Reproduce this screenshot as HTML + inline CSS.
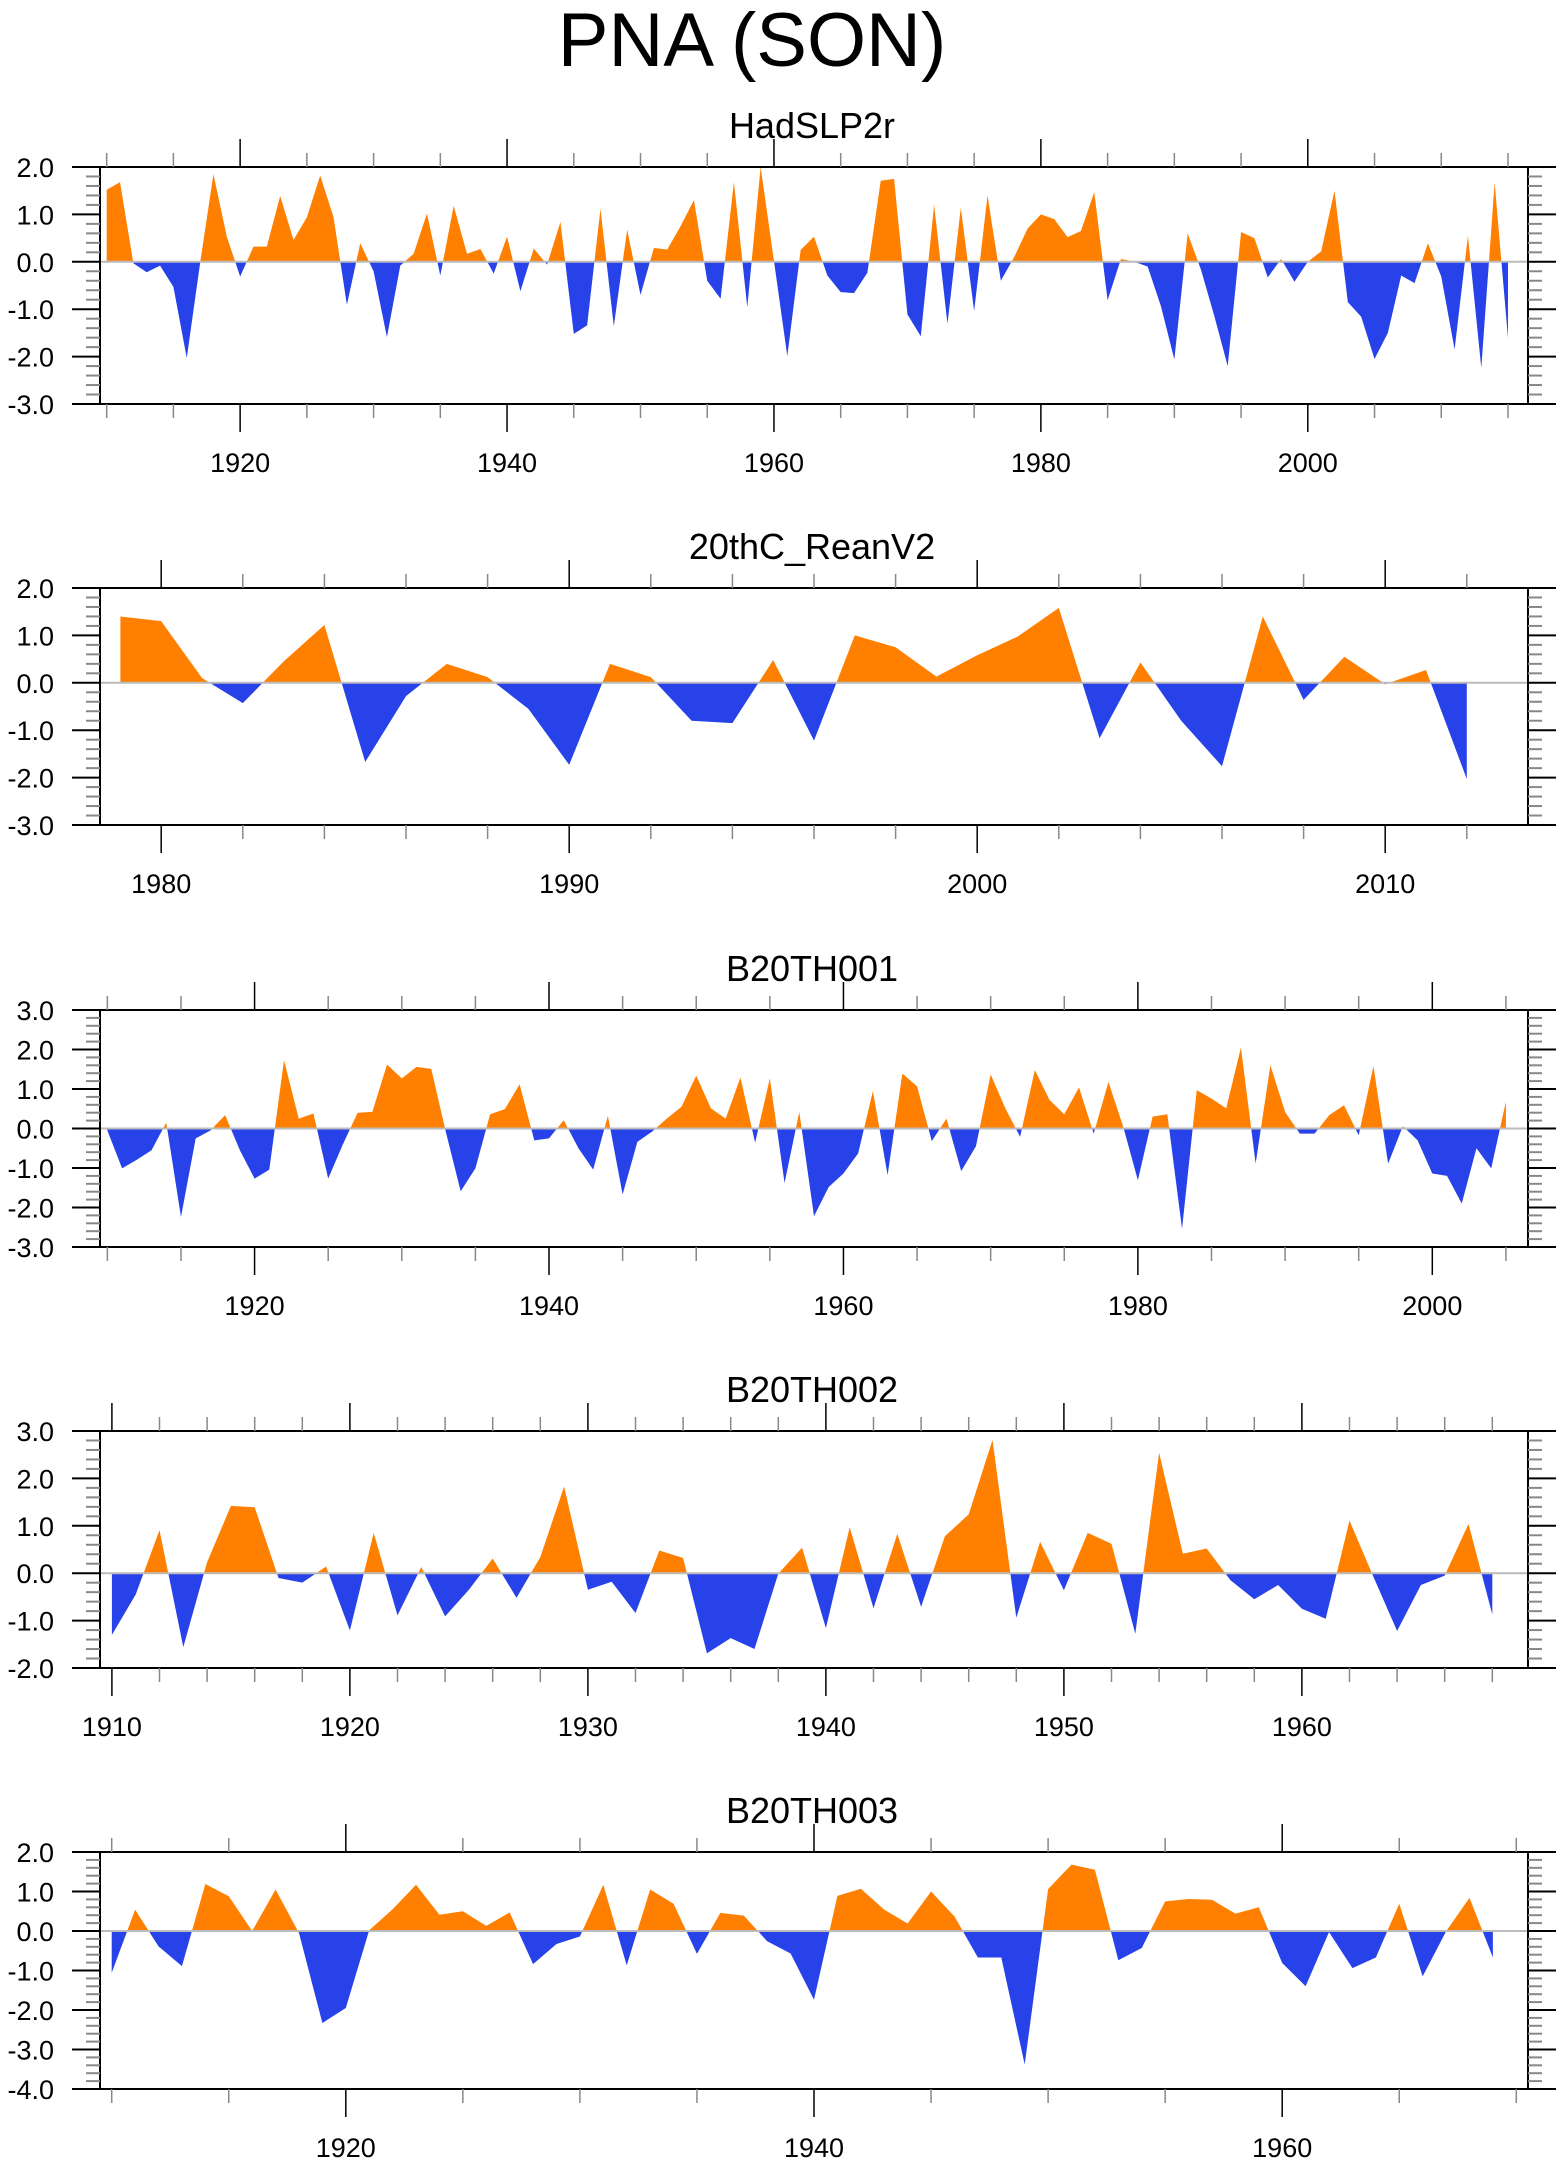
<!DOCTYPE html>
<html><head><meta charset="utf-8"><style>
html,body{margin:0;padding:0;background:#fff;}
svg{display:block;font-family:"Liberation Sans",Arial,sans-serif;}
</style></head><body>
<svg id="fig" width="1560" height="2165" viewBox="0 0 1560 2165" xmlns="http://www.w3.org/2000/svg">
<text x="752" y="66" font-size="76" text-anchor="middle">PNA (SON)</text>
</svg>
<script>
const hadYears0 = 1910;
const hadVals = [1.52,1.68,-0.03,-0.22,-0.08,-0.53,-2.03,-0.03,1.85,0.53,
-0.31,0.32,0.32,1.39,0.46,0.94,1.82,0.94,-0.91,0.39,
-0.2,-1.59,-0.08,0.17,1.02,-0.29,1.18,0.17,0.27,-0.25,
0.53,-0.62,0.28,-0.06,0.84,-1.52,-1.34,1.12,-1.36,0.68,
-0.7,0.29,0.26,0.75,1.3,-0.4,-0.78,1.68,-0.96,2.0,
0.02,-1.99,0.25,0.53,-0.29,-0.64,-0.66,-0.23,1.71,1.75,
-1.11,-1.57,1.2,-1.31,1.14,-1.04,1.4,-0.4,0.1,0.7,
1.0,0.9,0.52,0.65,1.47,-0.81,0.06,0.0,-0.1,-0.94,
-2.06,0.6,-0.17,-1.15,-2.2,0.63,0.5,-0.33,0.06,-0.42,
0.0,0.22,1.5,-0.85,-1.16,-2.05,-1.5,-0.29,-0.45,0.39,
-0.31,-1.85,0.55,-2.24,1.67,-1.61];
const reanYears0 = 1979;
const reanVals = [1.4,1.3,0.1,-0.43,0.45,1.22,-1.67,-0.28,0.4,0.12,
-0.55,-1.73,0.4,0.12,-0.8,-0.85,0.48,-1.22,1.0,0.75,
0.13,0.58,0.98,1.58,-1.17,0.43,-0.8,-1.76,1.4,-0.36,
0.55,-0.03,0.27,-2.03];
const b1Years0 = 1910;
const b1Vals = [-0.05,-1.01,-0.79,-0.55,0.15,-2.24,-0.25,-0.05,0.34,-0.55,
-1.27,-1.04,1.73,0.25,0.38,-1.27,-0.4,0.4,0.42,1.62,
1.27,1.56,1.51,-0.1,-1.59,-1.01,0.36,0.49,1.12,-0.3,
-0.25,0.21,-0.5,-1.04,0.32,-1.67,-0.34,-0.08,0.25,0.55,
1.34,0.51,0.25,1.29,-0.36,1.27,-1.38,0.42,-2.22,-1.48,
-1.14,-0.63,0.95,-1.18,1.39,1.07,-0.32,0.25,-1.08,-0.45,
1.37,0.51,-0.21,1.48,0.72,0.36,1.04,-0.13,1.18,0.05,
-1.31,0.3,0.36,-2.54,0.97,0.76,0.51,2.05,-0.89,1.6,
0.42,-0.13,-0.13,0.34,0.59,-0.17,1.58,-0.89,0.06,-0.3,
-1.14,-1.2,-1.9,-0.5,-1.01,0.68];
const b2Years0 = 1910;
const b2Vals = [-1.3,-0.45,0.91,-1.56,0.23,1.42,1.39,-0.1,-0.2,0.14,
-1.21,0.85,-0.89,0.13,-0.91,-0.35,0.31,-0.52,0.34,1.83,
-0.35,-0.18,-0.84,0.48,0.32,-1.69,-1.37,-1.6,-0.01,0.54,
-1.16,0.97,-0.74,0.83,-0.71,0.78,1.24,2.81,-0.94,0.66,
-0.36,0.85,0.62,-1.28,2.54,0.41,0.52,-0.15,-0.55,-0.25,
-0.75,-0.96,1.11,-0.07,-1.22,-0.25,-0.05,1.04,-0.87];
const b3Years0 = 1910;
const b3Vals = [-1.06,0.54,-0.39,-0.89,1.19,0.88,0.0,1.05,-0.05,-2.33,
-1.95,0.02,0.55,1.17,0.41,0.5,0.13,0.47,-0.84,-0.33,
-0.14,1.17,-0.87,1.05,0.69,-0.58,0.46,0.39,-0.26,-0.57,
-1.74,0.89,1.07,0.54,0.19,1.0,0.37,-0.67,-0.67,-3.38,
1.06,1.68,1.55,-0.74,-0.43,0.75,0.81,0.79,0.44,0.6,
-0.81,-1.4,-0.03,-0.94,-0.67,0.69,-1.15,-0.01,0.84,-0.67];

const yTicks1 = ["2.0","1.0","0.0","-1.0","-2.0","-3.0"];
const yTicks3 = ["3.0","2.0","1.0","0.0","-1.0","-2.0","-3.0"];
const yTicks4 = ["3.0","2.0","1.0","0.0","-1.0","-2.0"];
const yTicks5 = ["2.0","1.0","0.0","-1.0","-2.0","-3.0","-4.0"];

const panels = [
 {name:"hadslp2r",title:"HadSLP2r",y0:hadYears0,vals:hadVals,top:167,ymax:2,ymin:-3,yt:yTicks1,maj:20,min:5,lab:[1920,1940,1960,1980,2000]},
 {name:"20thc-reanv2",title:"20thC_ReanV2",y0:reanYears0,vals:reanVals,top:588,ymax:2,ymin:-3,yt:yTicks1,maj:10,min:2,lab:[1980,1990,2000,2010]},
 {name:"b20th001",title:"B20TH001",y0:b1Years0,vals:b1Vals,top:1010,ymax:3,ymin:-3,yt:yTicks3,maj:20,min:5,lab:[1920,1940,1960,1980,2000]},
 {name:"b20th002",title:"B20TH002",y0:b2Years0,vals:b2Vals,top:1431,ymax:3,ymin:-2,yt:yTicks4,maj:10,min:2,lab:[1910,1920,1930,1940,1950,1960]},
 {name:"b20th003",title:"B20TH003",y0:b3Years0,vals:b3Vals,top:1852,ymax:2,ymin:-4,yt:yTicks5,maj:20,min:5,lab:[1920,1940,1960]}
];
const NS="http://www.w3.org/2000/svg";
const svg=document.getElementById('fig');
function mk(tag,attrs,parent){const e=document.createElementNS(NS,tag);for(const k in attrs)e.setAttribute(k,attrs[k]);(parent||svg).appendChild(e);return e;}
const L=100,R=1528,H=237;
panels.forEach((p,pi)=>{
 const g=mk('g',{});
 
 
 const n=p.vals.length, xmin=p.y0-0.5, xmax=p.y0+n-1+1.5;
 const X=yr=>L+(yr-xmin)/(xmax-xmin)*(R-L);
 const Y=v=>p.top+(p.ymax-v)/(p.ymax-p.ymin)*H;
 const z=Y(0);
 const cu=mk('clipPath',{id:'cu'+pi},g);mk('rect',{x:L,y:p.top,width:R-L,height:z-p.top},cu);
 const cd=mk('clipPath',{id:'cd'+pi},g);mk('rect',{x:L,y:z,width:R-L,height:p.top+H-z},cd);
 let d='M'+X(p.y0)+','+z;
 p.vals.forEach((v,i)=>{d+=' L'+X(p.y0+i).toFixed(2)+','+Y(v).toFixed(2);});
 d+=' L'+X(p.y0+n-1)+','+z+' Z';
 const pos=mk('path',{d:d,fill:'#FF8000','clip-path':'url(#cu'+pi+')'},g);
 
 
 const neg=mk('path',{d:d,fill:'#2842EA','clip-path':'url(#cd'+pi+')'},g);
 
 
 const zl=mk('line',{x1:L,x2:R,y1:z,y2:z,stroke:'#bbb','stroke-width':2},g);
 
 
 const fr=mk('rect',{x:L,y:p.top,width:R-L,height:H,fill:'none',stroke:'#000','stroke-width':2},g);
 
 
 for(let k=0;k<=(p.ymax-p.ymin)*5;k++){
  const v=p.ymax-k*0.2, y=Y(v), major=(k%5===0);
  const len=major?28:14, col=major?'#000':'#888';
  mk('line',{x1:L-len,x2:L,y1:y,y2:y,stroke:col,'stroke-width':2},g);
  mk('line',{x1:R,x2:R+len,y1:y,y2:y,stroke:col,'stroke-width':2},g);
 }
 p.yt.forEach((t,k)=>{
  const tx=mk('text',{x:54,y:Y(p.ymax-k)+10,'font-size':27,'text-anchor':'end'},g);
  tx.textContent=t;
  
  
 });
 const first=Math.ceil(xmin/p.min)*p.min;
 for(let yr=first;yr<=xmax;yr+=p.min){
  const x=X(yr), major=(yr%p.maj===0), len=major?28:14, col=major?'#000':'#888';
  mk('line',{x1:x,x2:x,y1:p.top-len,y2:p.top,stroke:col,'stroke-width':1.5},g);
  mk('line',{x1:x,x2:x,y1:p.top+H,y2:p.top+H+len,stroke:col,'stroke-width':1.5},g);
 }
 p.lab.forEach(yr=>{
  const tx=mk('text',{x:X(yr),y:p.top+H+68,'font-size':27,'text-anchor':'middle'},g);
  tx.textContent=String(yr);
  
  
 });
 const tt=mk('text',{x:812,y:p.top-29,'font-size':36,'text-anchor':'middle'},g);
 tt.textContent=p.title;
 
 
});
</script>
</body></html>
